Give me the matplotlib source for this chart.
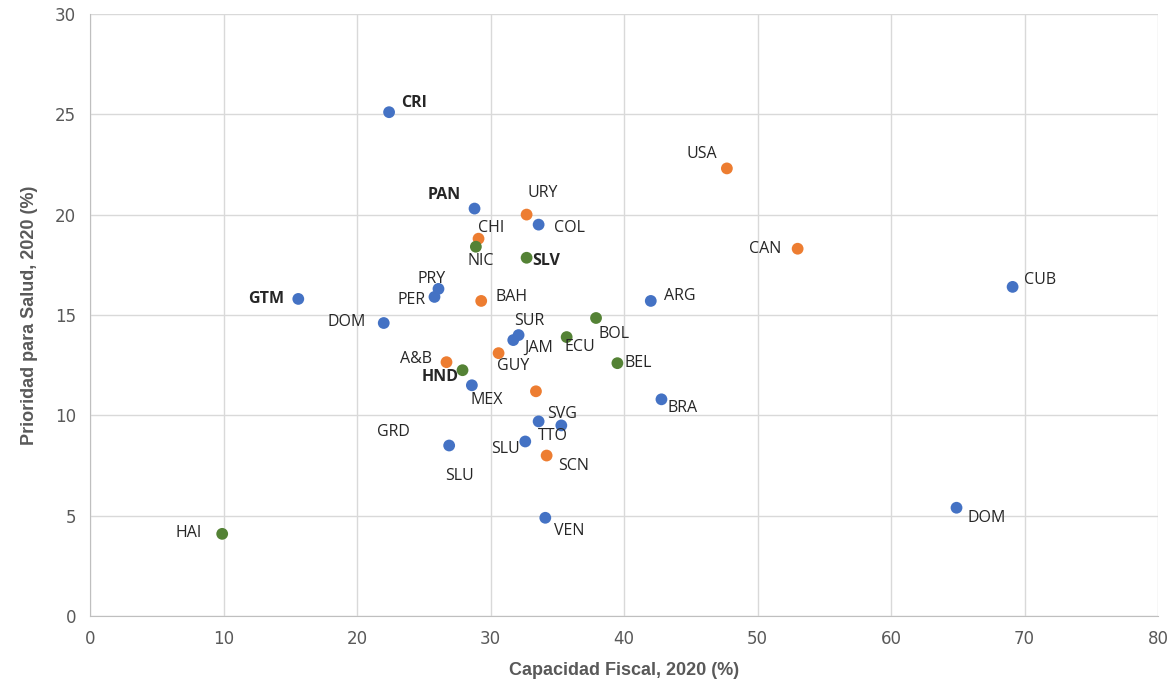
import matplotlib
matplotlib.use('Agg')
import matplotlib.pyplot as plt

# grupo 1 (azul)
blue_names = ['CRI', 'PAN', 'COL', 'GTM', 'PRY', 'PER', 'DOM', 'SUR', 'JAM', 'MEX',
              'ARG', 'CUB', 'BRA', 'SVG', 'TTO', 'SLU', 'GRD', 'VEN', 'DOM']
blue_x = [22.4, 28.8, 33.6, 15.6, 26.1, 25.8, 22.0, 32.1, 31.7, 28.6,
          42.0, 69.1, 42.8, 33.6, 35.3, 32.6, 26.9, 34.1, 64.9]
blue_y = [25.1, 20.3, 19.5, 15.8, 16.3, 15.9, 14.6, 14.0, 13.75, 11.5,
          15.7, 16.4, 10.8, 9.7, 9.5, 8.7, 8.5, 4.9, 5.4]

# grupo 2 (naranja)
orange_names = ['USA', 'CAN', 'URY', 'CHI', 'BAH', 'GUY', 'A&B', '', 'SCN']
orange_x = [47.7, 53.0, 32.7, 29.1, 29.3, 30.6, 26.7, 33.4, 34.2]
orange_y = [22.3, 18.3, 20.0, 18.8, 15.7, 13.1, 12.65, 11.2, 8.0]

# grupo 3 (verde)
green_names = ['NIC', 'SLV', 'BOL', 'ECU', 'BEL', 'HND', 'HAI']
green_x = [28.9, 32.7, 37.9, 35.7, 39.5, 27.9, 9.9]
green_y = [18.4, 17.85, 14.85, 13.9, 12.6, 12.25, 4.1]

bold_names = {'CRI', 'PAN', 'SLV', 'GTM', 'HND'}

# label offsets (pixels, per point)
blue_off = [(25, 9), (-30, 14), (31, -3), (-32, 0), (-7, 10), (-23, -3), (-37, 1),
            (11, 14), (25, -8), (15, -15), (29, 5), (27, 7), (21, -9), (23, 7),
            (-8, -11), (-20, -8), (-56, 13), (24, -13), (30, -10)]
orange_off = [(-25, 14), (-33, 0), (16, 22), (13, 11), (30, 4), (15, -13), (-30, 3),
              (0, 0), (27, -10)]
green_off = [(5, -14), (20, -3), (18, -16), (13, -10), (21, 0), (-22, -7), (-34, 1)]

fig = plt.figure(figsize=(11.69, 6.90), dpi=100)
ax = fig.add_axes([0.077, 0.107, 0.9137, 0.873])

grey = '#595959'
groups = [
    (blue_names, blue_x, blue_y, blue_off, '#4472C4'),
    (orange_names, orange_x, orange_y, orange_off, '#ED7D31'),
    (green_names, green_x, green_y, green_off, '#548235'),
]
for names, xs, ys, offs, col in groups:
    ax.scatter(xs, ys, s=72, c=col, edgecolors='none', zorder=3)
    for n, x, y, off in zip(names, xs, ys, offs):
        if not n:
            continue
        ax.annotate(n, (x, y), xytext=off, textcoords='offset pixels',
                    ha='center', va='center', fontsize=11.5, family='Open Sans',
                    fontweight='bold' if n in bold_names else 'normal',
                    color='#262626', zorder=4)

# extra SLU label below GRD point
ax.annotate('SLU', (blue_x[16], blue_y[16]), xytext=(10, -31), textcoords='offset pixels',
            ha='center', va='center', fontsize=11.5, family='Open Sans', color='#262626')

ax.set_xlim(0, 80)
ax.set_ylim(0, 30)
ax.set_xticks(range(0, 81, 10))
ax.set_yticks(range(0, 31, 5))
ax.grid(True, color='#D9D9D9', linewidth=1)
ax.set_axisbelow(True)
for s in ['top', 'right']:
    ax.spines[s].set_visible(False)
for s in ['left', 'bottom']:
    ax.spines[s].set_color('#BFBFBF')
ax.tick_params(length=0, labelsize=12, labelcolor=grey, pad=10)

ax.set_xlabel('Capacidad Fiscal, 2020 (%)', fontsize=13, fontweight='bold',
              color=grey, family='Liberation Sans', labelpad=10)
ax.set_ylabel('Prioridad para Salud, 2020 (%)', fontsize=13, fontweight='bold',
              color=grey, family='Liberation Sans', labelpad=12)

fig.savefig('out.png', dpi=100)
